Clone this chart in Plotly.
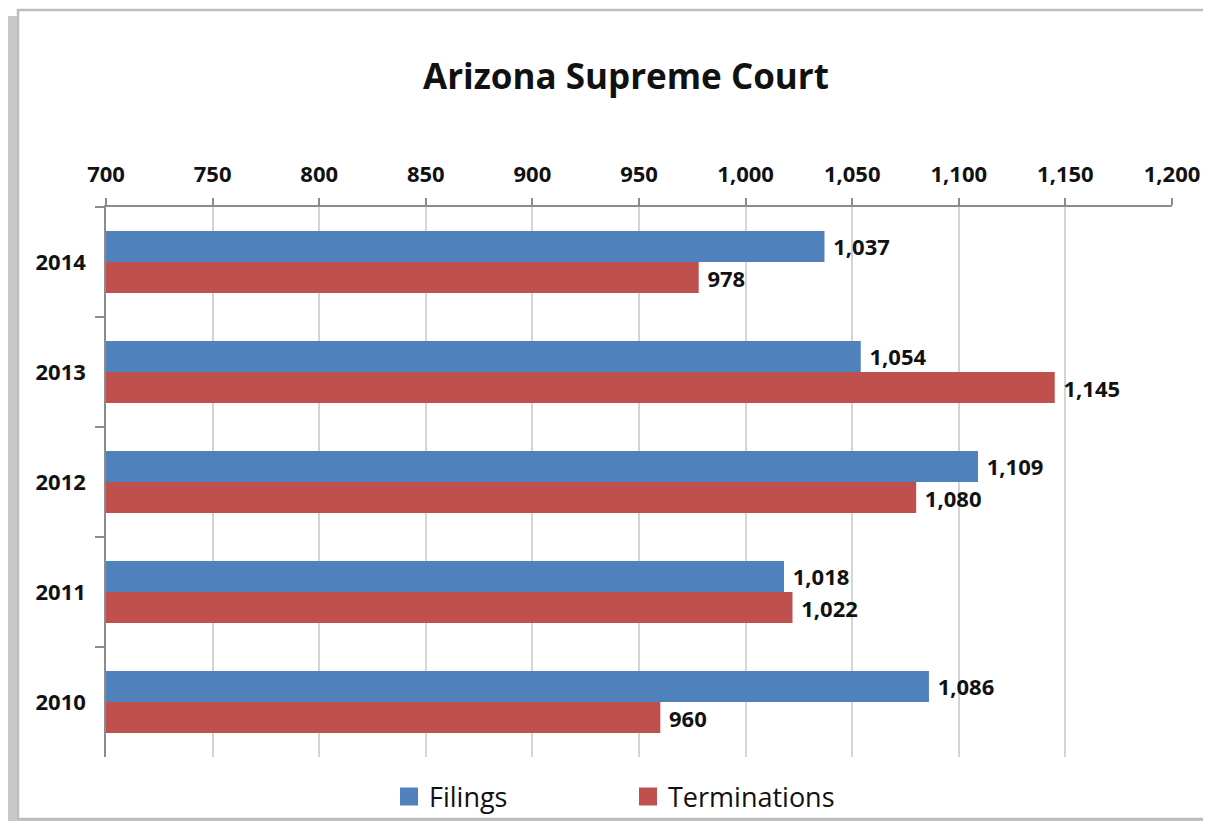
import plotly.graph_objects as go

years = ["2014", "2013", "2012", "2011", "2010"]
filings = [1037, 1054, 1109, 1018, 1086]
terminations = [978, 1145, 1080, 1022, 960]
x_ticks = [700, 750, 800, 850, 900, 950, 1000, 1050, 1100, 1150, 1200]

BLUE = "#4F81BD"
RED = "#C0504D"
FONT = "Open Sans"
TXT = "#111111"

OFF = 8  # page body margin
W, H = 1195, 813
L, T = 106 - OFF, 207 - OFF
R = W - (1172 - OFF)
B = H - (757 - OFF)
PW, PH = W - L - R, H - T - B


def px(x):  # screenshot x pixel -> paper
    return (x - OFF - L) / PW


def py(y):  # screenshot y pixel -> paper
    return (H - B - (y - OFF)) / PH


lbl_font = dict(family=FONT, size=22, color=TXT, weight="bold")

fig = go.Figure()
fig.add_trace(go.Bar(
    y=years, x=filings, orientation="h", name="Filings",
    marker=dict(color=BLUE, line=dict(width=0)),
    texttemplate=" %{x:,}", textposition="outside", textfont=lbl_font,
    showlegend=False, cliponaxis=False,
))
fig.add_trace(go.Bar(
    y=years, x=terminations, orientation="h", name="Terminations",
    marker=dict(color=RED, line=dict(width=0)),
    texttemplate=" %{x:,}", textposition="outside", textfont=lbl_font,
    showlegend=False, cliponaxis=False,
))
for nm, col in [("Filings", BLUE), ("Terminations", RED)]:
    fig.add_trace(go.Scatter(
        x=[None], y=[None], mode="markers", name=nm,
        marker=dict(symbol="square", size=16, color=col, line=dict(color=col, width=2)),
    ))

shapes = [
    dict(type="rect", xref="paper", yref="paper",
         x0=px(6), x1=px(1240), y0=py(16), y1=py(850),
         fillcolor="#C8C8C8", line=dict(width=0), layer="below"),
    dict(type="rect", xref="paper", yref="paper",
         x0=px(18), x1=px(1240), y0=py(10), y1=py(819),
         fillcolor="white", line=dict(color="#BDBDBD", width=2.5), layer="below"),
]

fig.update_layout(
    width=W, height=H,
    margin=dict(l=L, r=R, t=T, b=B, pad=0, autoexpand=False),
    paper_bgcolor="white", plot_bgcolor="rgba(0,0,0,0)",
    barmode="group", bargap=0.436, bargroupgap=0,
    font=dict(family=FONT, color=TXT),
    title=dict(text="<b>Arizona Supreme Court</b>", x=px(626), xanchor="center",
               xref="paper", y=1 - (77 - OFF) / H, yanchor="middle",
               font=dict(family=FONT, size=35, color=TXT)),
    shapes=shapes,
    legend=dict(orientation="h", x=px(389), xanchor="left", y=py(797), yanchor="middle",
                font=dict(family=FONT, size=27, color=TXT),
                entrywidth=194, entrywidthmode="pixels",
                bgcolor="rgba(0,0,0,0)"),
    xaxis=dict(side="top", range=[700, 1200], tickvals=x_ticks, tickformat=",",
               automargin=False,
               showgrid=True, gridcolor="#D4D4D4", gridwidth=1.5, zeroline=False,
               showline=True, linecolor="#8C8C8C", linewidth=1.5,
               ticks="outside", ticklen=7, tickcolor="#8C8C8C", tickwidth=1.5,
               ticklabelstandoff=7, tickfont=lbl_font),
    yaxis=dict(categoryorder="array", categoryarray=years, autorange="reversed",
               automargin=False,
               showgrid=False, showline=True, linecolor="#8C8C8C", linewidth=1.5,
               ticks="outside", tickson="boundaries", ticklen=9, tickcolor="#8C8C8C",
               tickwidth=1.5, ticklabelstandoff=14, tickfont=lbl_font),
)

fig.write_html("out.html")
